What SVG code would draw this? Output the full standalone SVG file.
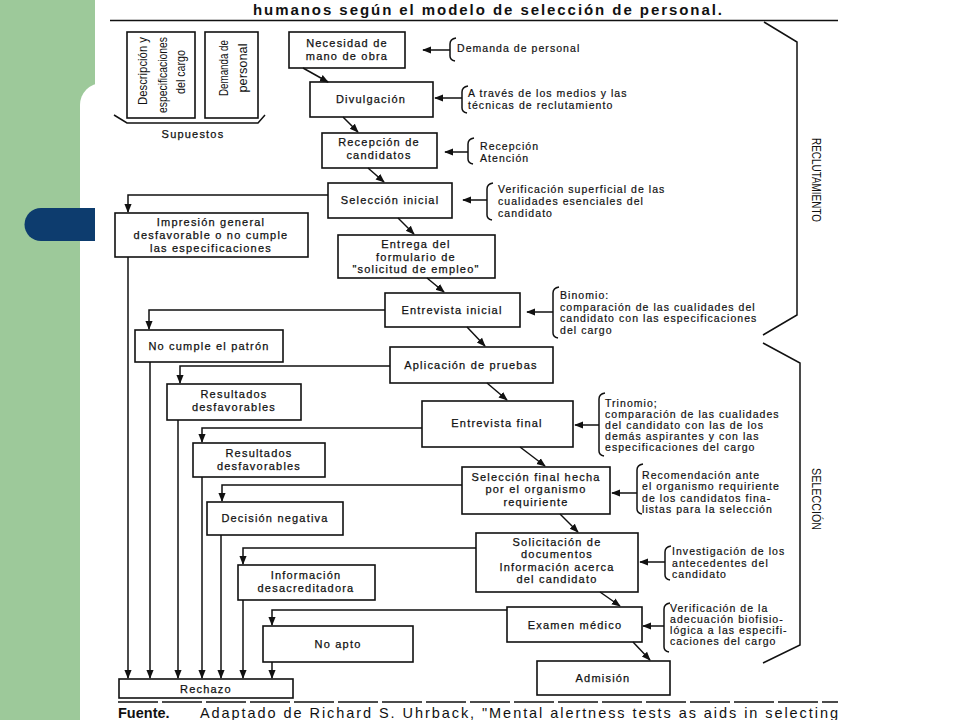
<svg xmlns="http://www.w3.org/2000/svg" width="960" height="720" viewBox="0 0 960 720">
<style>
.box{fill:#fff;stroke:#111;stroke-width:1.6}
.t{font-family:"Liberation Sans",Arial,sans-serif;font-size:11px;fill:#111;stroke:#111;stroke-width:0.25;letter-spacing:1.2px;text-anchor:middle}
.s{font-family:"Liberation Sans",Arial,sans-serif;font-size:10.5px;fill:#111;stroke:#111;stroke-width:0.2;letter-spacing:1.05px}
.r{font-family:"Liberation Sans",Arial,sans-serif;font-size:12.5px;fill:#111;text-anchor:middle}
.ln{stroke:#111;stroke-width:1.5;fill:none}
.arr{marker-end:url(#ah)}
</style>
<defs>
<marker id="ah" viewBox="0 0 10 10" refX="9" refY="5" markerWidth="9" markerHeight="9" markerUnits="userSpaceOnUse" orient="auto"><path d="M0,1 L10,5 L0,9 z" fill="#111"/></marker>
</defs>
<g id="background">
<rect x="0" y="0" width="960" height="720" fill="#fff"/>
<rect x="0" y="0" width="96" height="720" fill="#9DC99A"/>
<rect x="80" y="83" width="900" height="700" rx="22" fill="#fff"/>
<path d="M96,208 L41,208 A16.5,16.5 0 0 0 41,241 L96,241 Z" fill="#0D3C6E"/>
<rect x="95" y="0" width="746" height="720" fill="#fff"/>
</g>
<g id="header">
<text x="253" y="15" font-family="Liberation Sans,Arial,sans-serif" font-size="15" font-weight="bold" fill="#111" textLength="469" lengthAdjust="spacing">humanos según el modelo de selección de personal.</text>
<line x1="110" y1="20.5" x2="838" y2="20.5" stroke="#111" stroke-width="1.6"/>
</g>
<g id="supuestos">
<rect class="box" x="127" y="32" width="68" height="86"/>
<text class="r" transform="translate(146.5,71) rotate(-90)" textLength="68" lengthAdjust="spacingAndGlyphs">Descripción y</text>
<text class="r" transform="translate(166.5,75) rotate(-90)" textLength="76" lengthAdjust="spacingAndGlyphs">especificaciones</text>
<text class="r" transform="translate(184.5,72) rotate(-90)" textLength="44" lengthAdjust="spacingAndGlyphs">del cargo</text>
<rect class="box" x="205" y="32" width="53" height="86"/>
<text class="r" transform="translate(227.5,68) rotate(-90)" textLength="56" lengthAdjust="spacingAndGlyphs">Demanda de</text>
<text class="r" transform="translate(246.5,68) rotate(-90)" textLength="49" lengthAdjust="spacingAndGlyphs">personal</text>
<path class="ln" d="M114,115 L127,123 L258,123 L265,115"/>
<text class="t" x="193" y="138">Supuestos</text>
</g>
<g id="n1"><rect class="box" x="289" y="32" width="116" height="36"/><text class="t" x="347" y="47">Necesidad de</text><text class="t" x="347" y="60">mano de obra</text></g>
<g id="n2"><rect class="box" x="310" y="82" width="123" height="35"/><text class="t" x="371" y="103">Divulgación</text></g>
<g id="n3"><rect class="box" x="322" y="133" width="115" height="35"/><text class="t" x="379" y="146">Recepción de</text><text class="t" x="379" y="159">candidatos</text></g>
<g id="n4"><rect class="box" x="328" y="183" width="124" height="35"/><text class="t" x="390" y="204">Selección inicial</text></g>
<g id="n5"><rect class="box" x="115" y="213" width="193" height="44"/><text class="t" x="211" y="226">Impresión general</text><text class="t" x="211" y="239">desfavorable o no cumple</text><text class="t" x="211" y="252">las especificaciones</text></g>
<g id="n6"><rect class="box" x="338" y="235" width="157" height="43"/><text class="t" x="416" y="248">Entrega del</text><text class="t" x="416" y="260.5">formulario de</text><text class="t" x="416" y="273">"solicitud de empleo"</text></g>
<g id="n7"><rect class="box" x="385" y="293" width="135" height="34"/><text class="t" x="452" y="314">Entrevista inicial</text></g>
<g id="n8"><rect class="box" x="135" y="330" width="148" height="32"/><text class="t" x="209" y="350">No cumple el patrón</text></g>
<g id="n9"><rect class="box" x="390" y="347" width="163" height="36"/><text class="t" x="471" y="369">Aplicación de pruebas</text></g>
<g id="n10"><rect class="box" x="167" y="384" width="134" height="36"/><text class="t" x="234" y="398">Resultados</text><text class="t" x="234" y="411">desfavorables</text></g>
<g id="n11"><rect class="box" x="422" y="401" width="151" height="46"/><text class="t" x="497" y="427">Entrevista final</text></g>
<g id="n12"><rect class="box" x="193" y="443" width="132" height="34"/><text class="t" x="259" y="457">Resultados</text><text class="t" x="259" y="470">desfavorables</text></g>
<g id="n13"><rect class="box" x="462" y="467" width="148" height="47"/><text class="t" x="536" y="480.5">Selección final hecha</text><text class="t" x="536" y="493">por el organismo</text><text class="t" x="536" y="505.5">requiriente</text></g>
<g id="n14"><rect class="box" x="207" y="502" width="136" height="33"/><text class="t" x="275" y="522">Decisión negativa</text></g>
<g id="n15"><rect class="box" x="476" y="533" width="162" height="59"/><text class="t" x="557" y="545.5">Solicitación de</text><text class="t" x="557" y="558">documentos</text><text class="t" x="557" y="570.5">Información acerca</text><text class="t" x="557" y="583">del candidato</text></g>
<g id="n16"><rect class="box" x="238" y="565" width="137" height="35"/><text class="t" x="306" y="579">Información</text><text class="t" x="306" y="592">desacreditadora</text></g>
<g id="n17"><rect class="box" x="507" y="607" width="135" height="35"/><text class="t" x="575" y="629">Examen médico</text></g>
<g id="n18"><rect class="box" x="263" y="626" width="150" height="36"/><text class="t" x="338" y="648">No apto</text></g>
<g id="n19"><rect class="box" x="537" y="661" width="133" height="34"/><text class="t" x="603" y="682">Admisión</text></g>
<g id="n20"><rect class="box" x="119" y="679" width="174" height="19"/><text class="t" x="206" y="692.5">Rechazo</text></g>
<g id="connectors">
<line class="ln arr" x1="303" y1="68" x2="328" y2="82"/>
<line class="ln arr" x1="343" y1="117" x2="358" y2="132"/>
<line class="ln arr" x1="368" y1="168" x2="384" y2="182"/>
<line class="ln arr" x1="398" y1="218" x2="414" y2="234"/>
<line class="ln arr" x1="427" y1="278" x2="444" y2="292"/>
<line class="ln arr" x1="467" y1="327" x2="485" y2="346"/>
<line class="ln arr" x1="487" y1="383" x2="507" y2="400"/>
<line class="ln arr" x1="520" y1="447" x2="545" y2="466"/>
<line class="ln arr" x1="560" y1="514" x2="578" y2="532"/>
<line class="ln arr" x1="600" y1="592" x2="620" y2="606"/>
<line class="ln arr" x1="633" y1="642" x2="650" y2="660"/>
<path class="ln arr" d="M328,195 L128,195 L128,212"/>
<path class="ln arr" d="M385,310 L149,310 L149,329"/>
<path class="ln arr" d="M390,366 L180,366 L180,383"/>
<path class="ln arr" d="M422,428 L202,428 L202,442"/>
<path class="ln arr" d="M462,485 L222,485 L222,501"/>
<path class="ln arr" d="M476,548 L243,548 L243,564"/>
<path class="ln arr" d="M507,610 L272,610 L272,625"/>
<line class="ln arr" x1="128" y1="257" x2="128" y2="678"/>
<line class="ln arr" x1="150" y1="362" x2="150" y2="678"/>
<line class="ln arr" x1="178" y1="420" x2="178" y2="678"/>
<line class="ln arr" x1="202" y1="477" x2="202" y2="678"/>
<line class="ln arr" x1="221" y1="535" x2="221" y2="678"/>
<line class="ln arr" x1="243" y1="600" x2="243" y2="678"/>
<line class="ln arr" x1="272" y1="662" x2="272" y2="678"/>
<line class="ln arr" x1="450" y1="50" x2="423" y2="50"/>
<line class="ln arr" x1="462" y1="98" x2="435" y2="98"/>
<line class="ln arr" x1="468" y1="152" x2="445" y2="152"/>
<line class="ln arr" x1="487" y1="200" x2="463" y2="200"/>
<line class="ln arr" x1="553" y1="312" x2="527" y2="312"/>
<line class="ln arr" x1="599" y1="425" x2="575" y2="425"/>
<line class="ln arr" x1="637" y1="493" x2="612" y2="493"/>
<line class="ln arr" x1="665" y1="562" x2="640" y2="562"/>
<line class="ln arr" x1="664" y1="626" x2="643" y2="626"/>
</g>
<g id="annotations">
<path class="ln" d="M456,38 Q450,39 450,44 L450,56 Q450,60 455,61"/>
<text class="s" x="457" y="52">Demanda de personal</text>
<path class="ln" d="M468,86 Q462,87 462,92 L462,108 Q462,112 467,113"/>
<text class="s" x="468" y="97">A través de los medios y las</text>
<text class="s" x="468" y="109">técnicas de reclutamiento</text>
<path class="ln" d="M474,138 Q468,139 468,144 L468,159 Q468,163 473,164"/>
<text class="s" x="480" y="150">Recepción</text>
<text class="s" x="480" y="162">Atención</text>
<path class="ln" d="M493,183 Q487,184 487,189 L487,215 Q487,219 492,220"/>
<text class="s" x="498" y="193">Verificación superficial de las</text>
<text class="s" x="498" y="205">cualidades esenciales del</text>
<text class="s" x="498" y="217">candidato</text>
<path class="ln" d="M559,287 Q553,288 553,293 L553,333 Q553,337 558,338"/>
<text class="s" x="560" y="299">Binomio:</text>
<text class="s" x="560" y="310.5">comparación de las cualidades del</text>
<text class="s" x="560" y="322">candidato con las especificaciones</text>
<text class="s" x="560" y="333.5">del cargo</text>
<path class="ln" d="M605,393 Q599,394 599,399 L599,451 Q599,455 604,456"/>
<text class="s" x="605" y="407">Trinomio;</text>
<text class="s" x="605" y="418">comparación de las cualidades</text>
<text class="s" x="605" y="429">del candidato con las de los</text>
<text class="s" x="605" y="440">demás aspirantes y con las</text>
<text class="s" x="605" y="451">especificaciones del cargo</text>
<path class="ln" d="M643,464 Q637,465 637,470 L637,509 Q637,513 642,514"/>
<text class="s" x="642" y="478.5">Recomendación ante</text>
<text class="s" x="642" y="490">el organismo requiriente</text>
<text class="s" x="642" y="501.5">de los candidatos fina-</text>
<text class="s" x="642" y="513">listas para la selección</text>
<path class="ln" d="M671,546 Q665,547 665,552 L665,575 Q665,579 670,580"/>
<text class="s" x="672" y="555">Investigación de los</text>
<text class="s" x="672" y="566.5">antecedentes del</text>
<text class="s" x="672" y="578">candidato</text>
<path class="ln" d="M670,603 Q664,604 664,609 L664,647 Q664,651 669,652"/>
<text class="s" x="670" y="612">Verificación de la</text>
<text class="s" x="670" y="623">adecuación biofisio-</text>
<text class="s" x="670" y="634">lógica a las especifi-</text>
<text class="s" x="670" y="645">caciones del cargo</text>
</g>
<g id="phases">
<path class="ln" d="M764,22 L797,42 L797,315 L763,335"/>
<text font-family="Liberation Sans,Arial,sans-serif" font-size="13" fill="#111" text-anchor="middle" transform="translate(812,180) rotate(90)" textLength="84" lengthAdjust="spacingAndGlyphs">RECLUTAMIENTO</text>
<path class="ln" d="M763,343 L800,363 L800,645 L763,663"/>
<text font-family="Liberation Sans,Arial,sans-serif" font-size="13" fill="#111" text-anchor="middle" transform="translate(812,499) rotate(90)" textLength="62" lengthAdjust="spacingAndGlyphs">SELECCIÓN</text>
</g>
<g id="footer">
<line x1="118" y1="702" x2="838" y2="702" stroke="#111" stroke-width="1.4" stroke-dasharray="40 4"/>
<text x="118" y="718" font-family="Liberation Sans,Arial,sans-serif" font-size="14.5" font-weight="bold" fill="#111">Fuente.</text>
<text x="200" y="718" font-family="Liberation Sans,Arial,sans-serif" font-size="14.5" fill="#111" textLength="638" lengthAdjust="spacing">Adaptado de Richard S. Uhrback, "Mental alertness tests as aids in selecting</text>
</g>
</svg>
